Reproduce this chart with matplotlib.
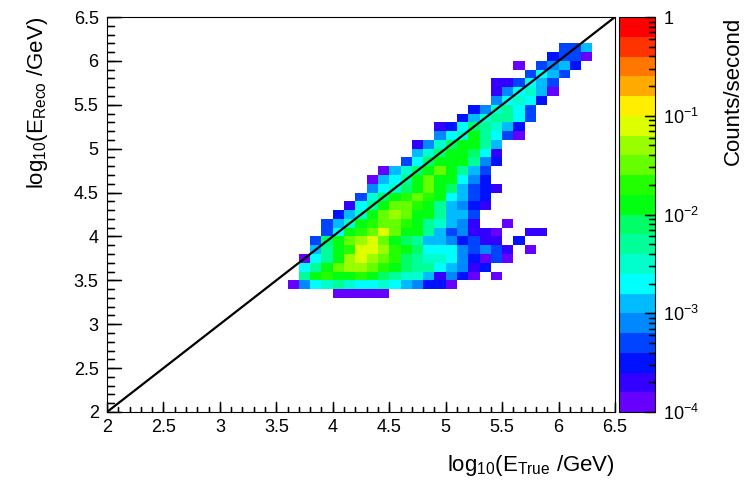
import numpy as np
import matplotlib
matplotlib.use("Agg")
import matplotlib.pyplot as plt
import matplotlib.cm as cm
from matplotlib.colors import ListedColormap, LogNorm
from matplotlib.ticker import MultipleLocator, LogLocator, FixedLocator, FormatStrFormatter, NullFormatter

plt.rcParams['font.family'] = ['Liberation Sans', 'DejaVu Sans']
plt.rcParams['mathtext.fontset'] = 'custom'
plt.rcParams['mathtext.rm'] = 'Liberation Sans'

# ROOT-like 20 step rainbow palette, low -> high
palette = ['#6600ff', '#3300ff', '#0011ff', '#0044ff', '#0088ff', '#00bbff',
           '#00ffff', '#00ffcc', '#00ff99', '#00ff66', '#00ff11', '#22ff00',
           '#66ff00', '#99ff00', '#ddff00', '#ffee00', '#ffaa00', '#ff7700',
           '#ff3300', '#ff0000']

# histogram binning (log10 GeV)
edges = np.linspace(2.0, 6.5, 46)

# rows of the histogram: lower edge of E_reco bin, lower edge of first E_true bin,
# colour level of each bin (None = empty bin)
ereco_low = [6.1, 6.0, 5.9, 5.8, 5.7, 5.6, 5.5, 5.4, 5.3, 5.2, 5.1, 5.0, 4.9, 4.8,
             4.7, 4.6, 4.5, 4.4, 4.3, 4.2, 4.1, 4.0, 3.9, 3.8, 3.7, 3.6, 3.5, 3.4, 3.3]
etrue_first = [6.0, 5.9, 5.6, 5.7, 5.4, 5.4, 5.4, 5.2, 5.1, 4.9, 4.9, 4.7, 4.7, 4.6,
               4.4, 4.3, 4.3, 4.2, 4.1, 4.0, 3.9, 3.9, 3.8, 3.8, 3.7, 3.7, 3.7, 3.6, 4.0]
rate_levels = [
    [3, 3, 5],
    [2, 3, 3, 0],
    [0, None, 3, 4, 5, 2],
    [3, 6, 5, 3],
    [1, 1, 3, 6, 5, 3],
    [1, 4, 6, 7, 5, 0],
    [4, 6, 7, 6, 2],
    [2, 4, 7, 8, 6, 3],
    [2, 5, 7, 8, 8, 6, 3],
    [1, 2, 6, 9, 8, 7, 5, 2],
    [4, 6, 7, 10, 8, 6, 3, 0],
    [1, 4, 7, 9, 10, 10, 8, 5],
    [5, 7, 9, 10, 10, 9, 6, 1],
    [3, 6, 9, 10, 10, 10, 8, 4, 2],
    [0, 5, 7, 9, 10, 12, 10, 8, 5, 3],
    [0, 5, 6, 8, 10, 12, 10, 10, 6, 4, 2],
    [4, 6, 7, 9, 10, 12, 10, 9, 5, 3, 2, 1],
    [3, 7, 9, 10, 11, 12, 11, 10, 6, 5, 3, 2],
    [1, 6, 8, 10, 12, 12, 11, 10, 8, 5, 4, 2, 1],
    [2, 5, 7, 10, 12, 13, 12, 10, 10, 8, 5, 5, 3],
    [3, 5, 7, 10, 11, 12, 12, 11, 10, 8, 7, 5, 4, 1, None, None, 0],
    [3, 6, 10, 11, 12, 14, 12, 10, 10, 8, 5, 3, 4, 1, 1, 0, None, None, 1, 1],
    [3, 9, 10, 12, 13, 14, 12, 10, 9, 8, 5, 5, 4, 2, 3, 1, 1, None, 2],
    [5, 8, 10, 11, 14, 14, 13, 11, 10, 9, 6, 6, 6, 4, 3, 4, 3, 1, None, 0],
    [0, 6, 8, 10, 13, 14, 13, 12, 11, 9, 8, 7, 7, 6, 4, 2, 0, 3, 0],
    [6, 8, 10, 12, 13, 13, 12, 11, 10, 9, 8, 8, 6, 5, 4, 1, 2],
    [8, 10, 11, 10, 10, 11, 10, 9, 8, 7, 7, 5, 1, 4, 2, 0, None, 0],
    [0, 4, 6, 7, 8, 7, 6, 6, 7, 6, 5, 4, 2, 2, 0],
    [0, 0, 0, 0, 0],
]

cbar_ticks = [1e-4, 1e-3, 1e-2, 1e-1, 1]
cbar_labels = ['$10^{-4}$', '$10^{-3}$', '$10^{-2}$', '$10^{-1}$', '1']

# fill the 2D histogram: level k -> middle of the k-th 0.2 decade step above 1e-4
counts = np.full((45, 45), np.nan)
for ylo, xlo, row in zip(ereco_low, etrue_first, rate_levels):
    iy = int(round((ylo - 2.0) * 10))
    ix0 = int(round((xlo - 2.0) * 10))
    for k, lvl in enumerate(row):
        if lvl is not None:
            counts[iy, ix0 + k] = 10 ** (-4 + 0.2 * lvl + 0.1)

fig = plt.figure(figsize=(7.44, 4.82), dpi=100)
ax = fig.add_axes([107 / 744, 70 / 482, 508 / 744, 395 / 482])
cax = fig.add_axes([619 / 744, 70 / 482, 36 / 744, 395 / 482])

cmap = ListedColormap(palette)
norm = LogNorm(vmin=1e-4, vmax=1)
ax.pcolormesh(edges, edges, np.ma.masked_invalid(counts), cmap=cmap, norm=norm)
ax.plot([2, 6.5], [2, 6.5], color='black', lw=1.6)

ax.set_xlim(2, 6.5)
ax.set_ylim(2, 6.5)
for a in (ax.xaxis, ax.yaxis):
    a.set_major_locator(MultipleLocator(0.5))
    a.set_minor_locator(MultipleLocator(0.1))
    a.set_major_formatter(FormatStrFormatter('%g'))
ax.tick_params(which='both', direction='in', top=False, right=False, labelsize=13,
               width=1.0, color='black')
ax.tick_params(axis='x', which='major', length=7.5, pad=5)
ax.tick_params(axis='x', which='minor', length=3.7)
ax.tick_params(axis='y', which='major', length=10, pad=6)
ax.tick_params(axis='y', which='minor', length=5)

# ROOT style inward ticks, drawn as short segments in data coordinates
major = MultipleLocator(0.5).tick_values(2, 6.5)
minor = MultipleLocator(0.1).tick_values(2, 6.5)
major = major[(major >= 2) & (major <= 6.5)]
minor = minor[(minor >= 2) & (minor <= 6.5)]
for v in minor:
    ax.plot([v, v], [2, 2.058], color='black', lw=0.9)
    ax.plot([2, 2.061], [v, v], color='black', lw=0.9)
for v in major:
    ax.plot([v, v], [2, 2.118], color='black', lw=0.9)
    ax.plot([2, 2.123], [v, v], color='black', lw=0.9)

ax.set_xlabel(r'log$_{10}$(E$_{\mathrm{True}}$ /GeV)', fontsize=16, loc='right', labelpad=12)
ax.set_ylabel(r'log$_{10}$(E$_{\mathrm{Reco}}$ /GeV)', fontsize=16, loc='top', labelpad=17)

# colour scale, from a separate mappable sharing the same norm and palette
cb = fig.colorbar(cm.ScalarMappable(norm=norm, cmap=cmap), cax=cax)
cb.outline.set_linewidth(0.8)
cax.yaxis.set_ticks_position('right')
cax.yaxis.set_major_locator(FixedLocator(cbar_ticks))
cax.set_yticklabels(cbar_labels)
cax.yaxis.set_minor_locator(LogLocator(base=10, subs=np.arange(2, 10)))
cax.yaxis.set_minor_formatter(NullFormatter())
cax.tick_params(which='both', direction='in', labelsize=13, width=1.0, color='black')
cax.tick_params(which='major', length=7, pad=6)
cax.tick_params(which='minor', length=4)
cax.set_xlim(0, 1)
cax.set_ylim(1e-4, 1)
for v in cbar_ticks:
    cax.plot([0.73, 1], [v, v], color='black', lw=0.9)
for d in range(-4, 0):
    for s in range(2, 10):
        cax.plot([0.845, 1], [s * 10.0 ** d, s * 10.0 ** d], color='black', lw=0.9)
cb.set_label('Counts/second', fontsize=16, loc='top', labelpad=17)

fig.savefig('out.png', dpi=100)
